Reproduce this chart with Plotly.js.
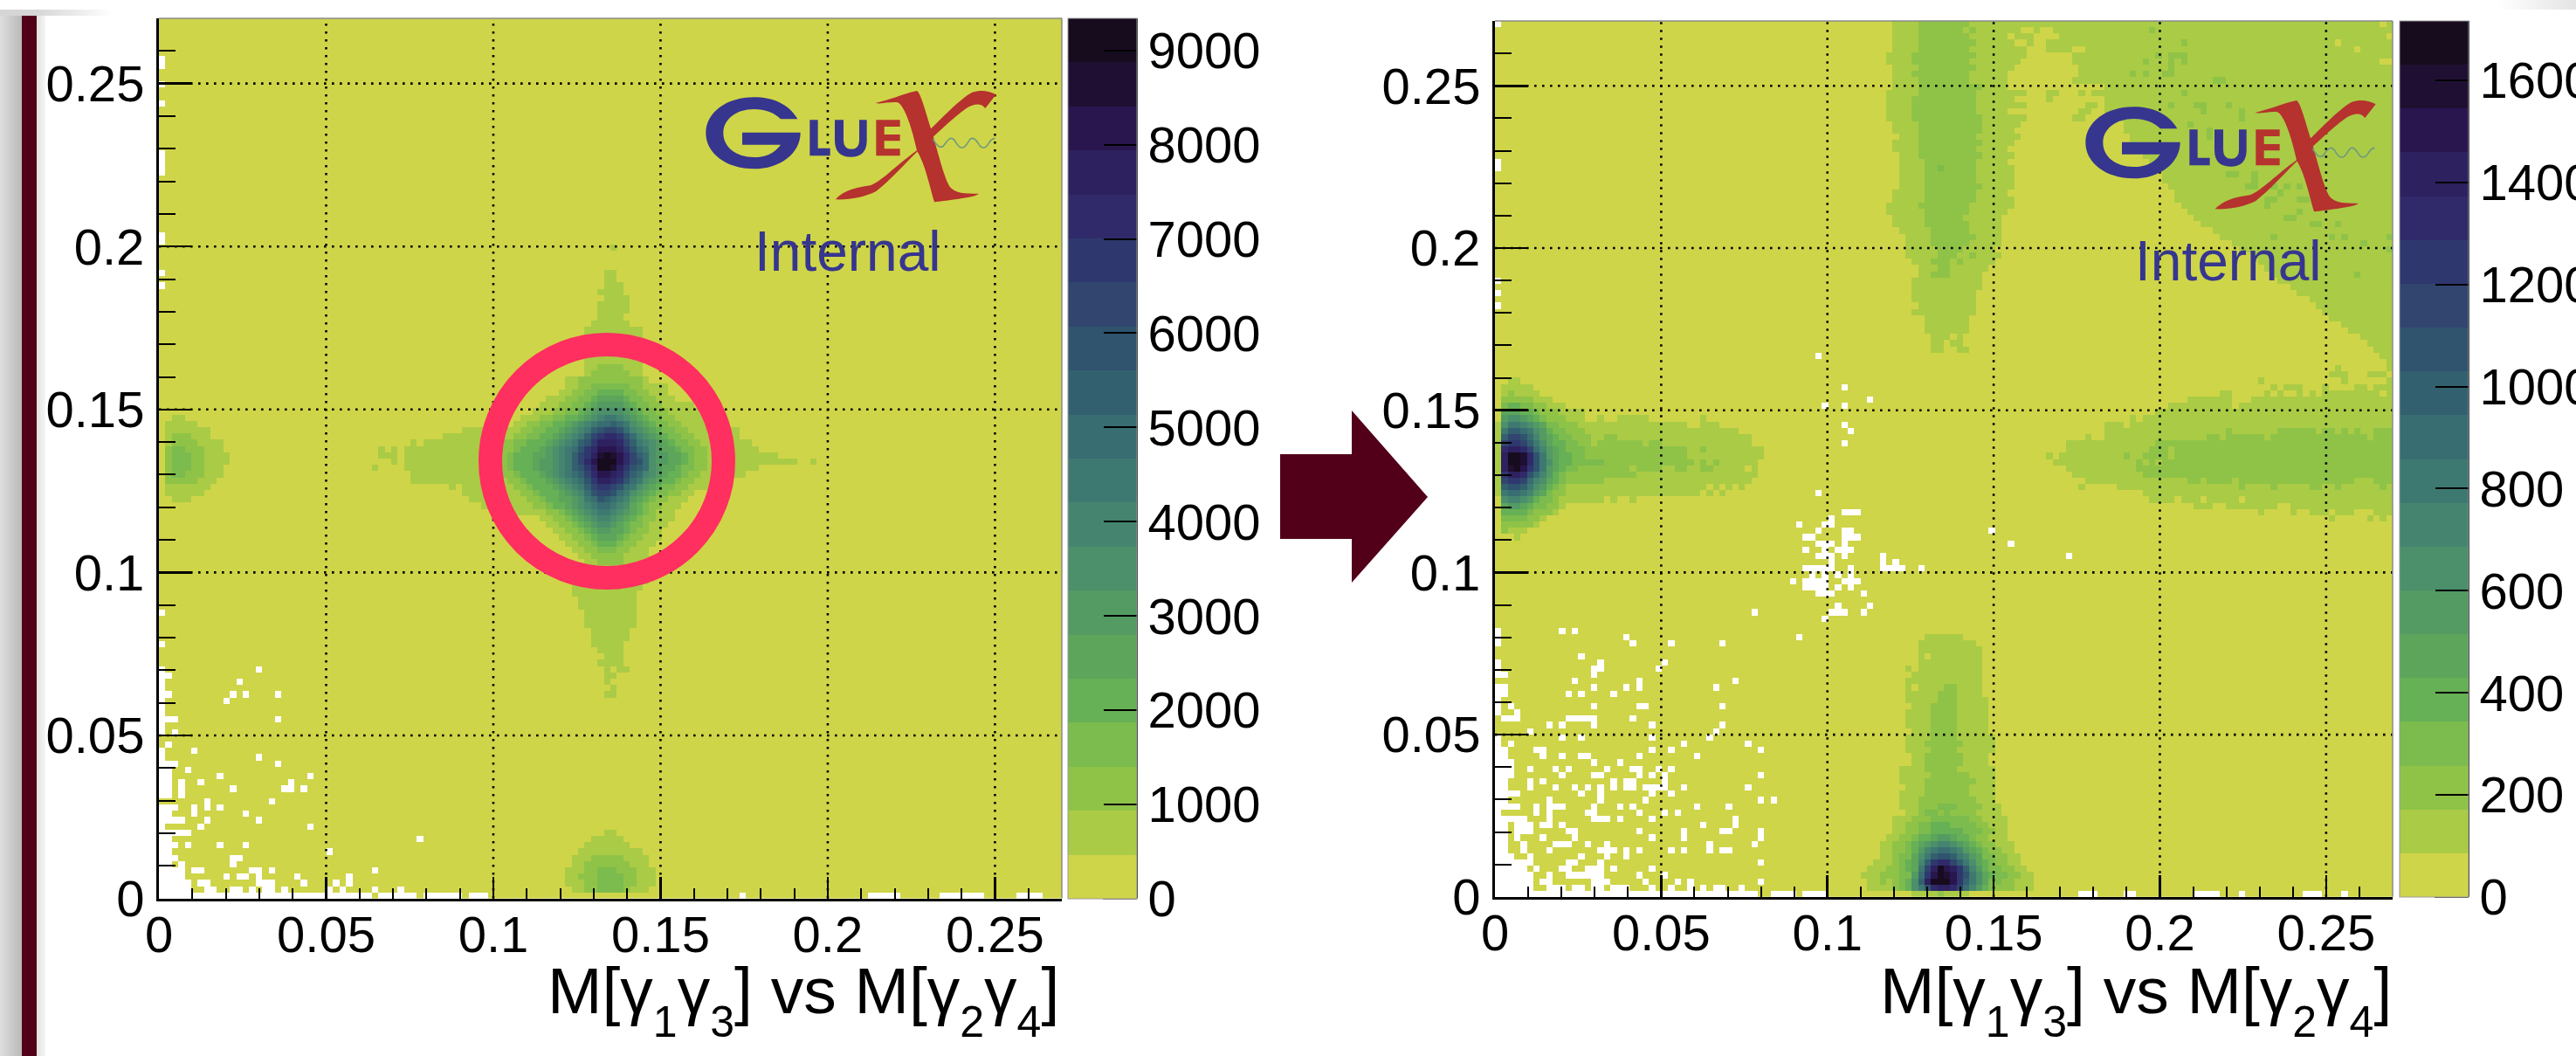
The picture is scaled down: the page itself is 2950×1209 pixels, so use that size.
<!DOCTYPE html>
<html>
<head>
<meta charset="utf-8">
<script src="https://cdn.plot.ly/plotly-3.0.1.min.js"></script>
<style>
html,body{margin:0;padding:0;width:2950px;height:1209px;overflow:hidden;
background:
 linear-gradient(to right,#ffffff 2860px,#e4e4e4 2950px) 0 0/100% 11px no-repeat,
 linear-gradient(to right,#d6d6d6 42px,#ffffff 130px) 0 0/100% 18px no-repeat,
 linear-gradient(to right,#dedede 0,#b9b9b9 25px,#52001a 25px,#52001a 42px,#e2e2e2 42px,#f6f6f6 52px,#ffffff 52px);}
#plot{width:2950px;height:1209px;}
</style>
</head>
<body>
<div id="plot"></div>
<script>
// ---------- chart values ----------
var binCount = 140;
var axisMax = 0.27;
var tickValues = [0, 0.05, 0.1, 0.15, 0.2, 0.25];
var tickLabels = ["0", "0.05", "0.1", "0.15", "0.2", "0.25"];
var minorTickValues = [0.01,0.02,0.03,0.04,0.06,0.07,0.08,0.09,0.11,0.12,0.13,0.14,0.16,0.17,0.18,0.19,0.21,0.22,0.23,0.24,0.26];
var gridValues = [0.05, 0.1, 0.15, 0.2, 0.25];
var bandColours = ["#CFD548","#AACB45","#8FC348","#7CBB4D","#66B055","#5CA55B","#539A63","#4B8F6B","#458570","#3E7971",
                   "#386D72","#33606F","#30536E","#31456F","#2E386E","#302A6A","#2E2160","#29164F","#1F1033","#170B1E"];
var leftZMax = 9340, rightZMax = 1716;
var leftCbarTicks = [0,1000,2000,3000,4000,5000,6000,7000,8000,9000];
var rightCbarTicks = [0,200,400,600,800,1000,1200,1400,1600];
var subDigit = function (d) { return '<sub><sub><span style="font-size:50px">' + d + '</span></sub></sub>'; };
var xTitle = "M[γ" + subDigit(1) + "γ" + subDigit(3) + "] vs M[γ" + subDigit(2) + "γ" + subDigit(4) + "]";

// Left panel: [row, firstCol, lastCol, band]
var leftRuns = [
[103,70,70,1],[99,69,70,1],[98,69,70,1],[97,69,71,1],[96,68,71,1],[95,69,72,1],[94,68,72,1],[93,68,72,1],[92,68,71,1],[91,67,72,1],
[90,66,74,1],[89,66,74,1],[88,66,74,1],[87,66,74,1],[86,66,74,1],
[72,39,39,1],[71,34,34,1],[71,36,36,1],[70,34,36,1],[69,36,36,1],[68,33,33,1],[65,45,45,1],[69,101,101,1],
[52,65,74,1],[51,64,75,1],[50,64,75,1],[49,64,74,1],[48,64,73,1],[47,65,73,1],[46,65,73,1],[45,66,73,1],[44,66,73,1],[43,66,73,1],
[42,67,72,1],[41,67,72,1],[40,67,71,1],[39,68,71,1],[38,69,71,1],[37,68,71,1],[36,69,69,1],[36,71,72,1],[35,69,70,1],[34,69,69,1],[33,70,70,1],[32,69,70,1],
// bottom blob
[10,69,70,1],[9,67,71,1],[8,66,72,1],[7,65,74,1],[6,64,75,1],[5,64,75,1],[4,63,76,1],[3,63,76,1],[2,63,76,1],[1,64,75,1],
[6,67,71,2],[5,66,72,2],[4,66,73,2],[3,65,73,2],[2,66,73,2],[1,66,72,2],[4,68,70,3],[3,68,71,3],[2,68,71,3],[1,68,71,3],
// left blob
[76,2,3,1],[75,1,5,1],[74,1,7,1],[73,1,7,1],[72,1,9,1],[71,1,9,1],[70,1,10,1],[69,1,10,1],[68,1,9,1],[67,1,9,1],[66,1,8,1],[65,1,7,1],[64,1,6,1],[63,2,4,1],
[73,2,4,2],[72,2,5,2],[71,1,6,2],[70,1,6,2],[69,1,6,2],[68,1,6,2],[67,1,6,2],[66,1,5,2],
[71,2,3,3],[70,2,4,3],[69,2,4,3],[68,2,4,3],[67,2,3,3]
];
// Left panel: [row, firstCol, band of each bin from there on]
var leftProfiles = [
[85,66,"111111111"],
[84,66,"112222111"],
[83,66,"122222211"],
[82,63,"11 2222222222 1"],
[81,63,"11 22 333333 22 1111"],
[80,62,"11 22 33 4444 33 22 111"],
[79,60,"111 22 33 4 5555 4 33 22 111"],
[78,59,"111 22 33 4 5 6666 5 4 33 22 11111"],
[77,58,"111 22 33 4 5 6 7777 6 5 4 33 22 11111"],
[76,56,"111 22 33 44 5 6 7 8998 7 6 5 4 33 22 11111"],
[75,55,"11 22 33 44 5 6 7 8 9 aaba 9 7 6 5 4 33 22 11111"],
[74,47,"1111111 11 22 33 44 5 6 7 8 9 bcddca 8 7 6 5 4 33 22 11111 111"],
[73,44,"11111111111 22 33 44 5 6 7 8 9 b d e f f e c a 8 7 6 5 4 33 22 1111111"],
[72,41,"111111111111 22 33 444 5 6 7 8 9 b c e g g g f d b 9 8 7 6 5 4 33 22 11111111"],
[71,38,"11111111111111 222 3 444 5 6 7 8 9 a c e f h h h g e c a 9 7 6 5 5 4 33 22 11111111"],
[70,38,"11111111111111 22 3 444 5 5 6 7 8 9 b d e g i j i h f d b a 7 6 6 5 5 4 3 22 11111111111"],
[69,38,"11111111111111 22 3 444 5 6 6 7 8 9 b d f h j j j h f d c a 7 6 6 5 5 4 3 22 11111111111111"],
[68,38,"11111111111111 22 3 444 5 6 6 7 8 9 b c e g j j i g e c b a 7 6 5 5 4 3 3 22 11111111"],
[67,39,"11111111111111 22 3 444 5 6 7 8 9 a b d f h h g f d b a 8 7 6 5 4 4 3 22 1111111"],
[66,39,"111111111111111 22 3 444 5 6 7 8 9 a c e g g f e c a 9 7 6 5 4 4 3 22 111111"],
[65,47,"11111111 22 3 444 5 6 7 8 9 b d e e d c a 9 7 6 5 4 3 3 22 11111"],
[64,47,"111111111 22 3 444 5 6 7 8 a c d d c a 9 7 6 5 4 3 3 22 11"],
[63,48,"111111111 22 3 44 5 5 6 7 9 a c b a 9 8 6 5 4 3 22 111"],
[62,50,"11111111 22 3 44 5 6 7 8 9 a a 9 8 7 5 4 3 22 111"],
[61,55,"11111 22 3 4 5 6 7 8 9 9 8 7 6 5 4 3 2 111"],
[60,59,"11 22 3 4 5 6 7 8 8 7 6 5 4 3 22 111"],
[59,60,"11 22 3 4 5 6 7 7 6 5 4 33 2 111"],
[58,61,"11 22 3 4 5 6 6 5 5 4 3 22 11"],
[57,62,"11 22 3 4 5 5 5 4 3 22 111"],
[56,63,"11 22 3 4 4 4 3 22 111"],
[55,64,"11 22 3 3 3 22 111"],
[54,65,"11 22222 1111"],
[53,66,"11 2222 111"]
];
// Left panel: bins without entries, [row, [cols]]
var leftEmpty = [
[133,[0]],[132,[0]],[129,[0]],[126,[0]],[118,[0]],[117,[0]],[116,[0]],[115,[0]],[105,[0]],[104,[0]],[99,[0]],[97,[0]],
[45,[0]],[40,[0]],[36,[0,15]],[35,[0,1]],[34,[0,12]],[33,[0]],[32,[0,1,11,13,18]],[31,[0,10]],[30,[0]],[29,[0]],[28,[0,1,2,18]],[27,[0]],[26,[0,2]],
[24,[1]],[23,[0,5]],[22,[0,15]],[21,[0,1,2,18]],[20,[0,1,4]],[19,[0,1,9,23]],[18,[0,1,3,6,20]],[17,[0,1,3,11,19,20,22]],[16,[0,1,3]],
[15,[7,17]],[14,[0,1,2,5,7,9]],[13,[0,1,5,13]],[12,[0,1,2,3,7,15]],[11,[0,6,23]],[10,[0,1,2,3,4]],[9,[0,1,40]],[8,[0,1,2,4,9,13]],[7,[0,1,26]],[6,[0,1,2,11,12]],[5,[0,1,3,11]],
[4,[0,1,2,3,5,6,14,15,17,33]],[3,[0,1,2,3,10,12,13,15,21,29]],[2,[0,1,2,3,4,6,7,15,16,17,22,27,29]],[1,[0,1,2,3,4,7,8,11,12,14,16,17,19,26,28,33,37]],
[0,[0,1,2,3,4,5,6,7,8,9,10,11,12,13,14,15,16,17,18,19,20,21,22,23,24,25,26,27,28,29,30,31,32,34,35,36,37,38,39,41,42,43,44,45,46,48,49,50,90,110,111,112,113,114,121,122,123,124,125,126,127,133,134,135,136]]
];

// Right panel: [row, firstCol, lastCol, band]
var rightRuns = [
// upper vertical band and diffuse top-right region, band 1
[139,62,139,1],[138,62,139,1],[137,62,139,1],[136,62,139,1],[135,62,139,1],[134,61,139,1],[133,61,139,1],[132,62,139,1],[131,62,139,1],[130,62,139,1],
[129,62,79,1],[128,61,82,1],[127,61,80,1],[126,61,82,1],[125,61,79,1],[124,61,82,1],[123,62,81,1],[122,62,80,1],[121,63,81,1],[120,62,80,1],
[119,62,79,1],[118,63,80,1],[117,63,79,1],[116,63,80,1],[115,63,80,1],[114,63,80,1],[113,63,80,1],[112,62,79,1],[111,62,80,1],[110,61,80,1],
[109,61,79,1],[108,62,78,1],[107,62,78,1],[106,63,78,1],[105,64,78,1],[104,64,78,1],[103,64,77,1],[102,64,78,1],[101,65,77,1],[100,66,76,1],
[99,66,75,1],[98,65,75,1],[97,65,75,1],[96,65,74,1],[95,65,74,1],[94,66,74,1],[93,65,74,1],[92,67,73,1],[91,67,73,1],[90,67,73,1],
[89,68,70,1],[89,72,72,1],[88,68,69,1],[88,71,72,1],[87,68,69,1],[87,72,73,1],
[129,95,139,1],[128,95,139,1],[128,86,87,1],[128,91,91,1],[128,93,94,1],[127,95,139,1],[127,86,86,1],[126,95,139,1],[126,92,93,1],[125,95,139,1],[125,91,92,1],[124,95,139,1],[124,90,91,1],
[123,98,139,1],[122,98,139,1],[121,99,139,1],[120,99,139,1],[119,100,139,1],[118,101,139,1],[117,102,139,1],[116,103,139,1],[115,104,139,1],[114,104,139,1],
[113,105,139,1],[112,106,139,1],[111,106,139,1],[110,107,139,1],[109,108,139,1],[108,109,139,1],[107,110,139,1],[106,112,139,1],[105,113,139,1],[104,115,139,1],
[103,116,139,1],[102,118,139,1],[101,119,139,1],[100,120,139,1],[99,121,139,1],[98,122,139,1],[97,124,139,1],[96,125,139,1],[95,127,139,1],[94,128,139,1],
[93,129,139,1],[92,130,139,1],[91,132,139,1],[90,133,139,1],[89,135,139,1],[88,136,139,1],[87,137,139,1],[86,138,139,1],[85,139,139,1],
// yellow holes in the top-right region
[138,82,83,0],[138,85,86,0],[137,80,80,0],[137,84,87,0],[136,81,82,0],[136,84,85,0],[135,83,85,0],[135,90,91,0],[134,83,89,0],[133,82,89,0],[132,81,90,0],[131,80,90,0],[130,80,89,0],
[139,138,138,0],[137,139,139,0],[136,131,131,0],[135,134,134,0],[133,138,139,0],
// band 2, vertical band
[139,66,73,2],[138,66,72,2],[138,74,74,2],[137,66,73,2],[136,66,74,2],[135,66,73,2],[134,65,74,2],[133,65,73,2],[132,66,74,2],[131,65,73,2],[130,66,73,2],
[129,66,75,2],[128,66,74,2],[127,65,74,2],[126,65,74,2],[125,65,74,2],[124,65,75,2],[123,66,75,2],[122,66,75,2],[121,66,74,2],[120,66,75,2],
[119,66,74,2],[118,66,75,2],[117,67,74,2],[116,67,74,2],[115,67,74,2],[114,67,74,2],[113,67,75,2],[112,67,74,2],[111,67,74,2],[110,66,73,2],
[109,67,73,2],[108,67,72,2],[107,67,73,2],[106,68,73,2],[105,68,74,2],[104,68,73,2],[103,69,72,2],[102,69,71,2],[102,74,74,2],[101,68,70,2],[101,72,72,2],[100,69,70,2],[99,68,70,2],
[116,69,69,3],
// speckles, top-right region
[138,102,102,2],[136,107,107,2],[134,103,103,2],[134,105,107,2],[133,101,101,2],[133,105,105,2],[133,107,107,2],[132,105,105,2],[131,99,99,2],[131,101,101,2],[131,104,105,2],
[130,112,113,2],[128,107,107,2],[126,105,105,2],[126,109,110,2],[126,114,114,2],[125,110,110,2],[125,116,116,2],[124,116,116,2],[123,108,108,2],[122,111,111,2],[121,111,111,2],
[115,114,115,2],[115,118,118,2],[114,118,118,2],[113,117,118,2],[113,121,121,2],[113,123,123,2],[113,125,125,2],[112,122,122,2],[111,120,121,2],[111,125,126,2],[110,120,120,2],[109,125,125,2],[108,123,124,2],
[107,127,128,2],[107,131,131,2],[105,121,121,2],[105,130,130,2],[105,132,132,2],[105,139,139,2],[104,135,135,2],[103,139,139,2],[99,134,134,2],
// right horizontal band, band 1
[84,131,131,1],[84,139,139,1],[83,130,132,1],[83,136,138,1],[82,119,119,1],[82,132,132,1],[82,139,139,1],
[81,121,121,1],[81,123,125,1],[81,129,129,1],[81,134,135,1],[81,137,139,1],
[80,113,114,1],[80,120,120,1],[80,122,122,1],[80,125,125,1],[80,127,127,1],[80,129,133,1],[80,134,137,1],[80,139,139,1],
[79,108,113,1],[79,114,114,1],[79,118,139,1],[78,105,114,1],[78,116,139,1],[77,103,139,1],[76,99,99,1],[76,101,139,1],[75,95,97,1],[75,99,139,1],[74,95,139,1],
[73,92,92,1],[73,95,139,1],[72,89,139,1],[71,89,139,1],[70,86,86,1],[70,88,139,1],[69,87,139,1],[68,89,139,1],[67,90,91,1],[67,92,139,1],[66,92,139,1],
[65,91,91,1],[65,97,139,1],[64,101,139,1],[63,102,105,1],[63,107,109,1],[63,111,115,1],[63,117,139,1],[62,109,111,1],[62,114,121,1],[62,124,139,1],
[61,119,119,1],[61,124,124,1],[61,127,129,1],[61,131,133,1],[61,137,139,1],[60,130,130,1],[60,136,136,1],[60,138,138,1],
// right horizontal band, band 2
[74,114,114,2],[74,122,127,2],[74,129,130,2],[74,132,132,2],[74,134,134,2],[74,137,139,2],
[73,111,112,2],[73,114,119,2],[73,121,133,2],[73,134,135,2],[73,137,139,2],
[72,103,105,2],[72,106,139,2],[71,102,104,2],[71,106,139,2],[70,98,98,2],[70,101,104,2],[70,106,139,2],[69,100,100,2],[69,102,102,2],[69,104,139,2],
[68,100,139,2],[67,101,105,2],[67,106,139,2],[66,108,109,2],[66,111,114,2],[66,116,133,2],[66,137,139,2],
[65,116,116,2],[65,121,121,2],[65,127,128,2],[65,131,131,2],[65,138,138,2],
// bottom vertical arm, band 1
[41,67,71,1],[41,72,72,1],[40,66,74,1],[39,66,75,1],[38,66,66,1],[38,68,75,1],[37,66,75,1],[36,64,64,1],[36,66,75,1],[35,65,75,1],[34,64,75,1],[33,64,64,1],[33,66,75,1],[32,64,75,1],
[31,64,76,1],[30,65,76,1],[29,64,76,1],[28,64,76,1],[27,64,76,1],[26,65,76,1],[25,64,77,1],[24,64,77,1],[23,64,77,1],[22,65,76,1],[21,65,76,1],[20,63,77,1],[19,63,77,1],[18,63,77,1],
[17,64,77,1],[16,63,77,1],[15,63,77,1],[14,63,78,1],[13,64,78,1],[12,62,79,1],[11,62,79,1],[10,62,79,1],
// bottom vertical arm, band 2
[33,70,71,2],[32,69,71,2],[31,69,71,2],[30,68,71,2],[29,68,71,2],[28,68,71,2],[27,68,71,2],[26,68,71,2],[25,68,71,2],[24,67,72,2],[23,68,71,2],[22,67,72,2],[21,67,72,2],[20,67,71,2],
[19,68,73,2],[18,67,74,2],[17,67,73,2],[16,67,73,2],[15,66,74,2],[14,66,75,2],[13,66,74,2],[14,69,71,3],[13,67,68,3],[13,70,70,3],
[12,65,75,2],[12,68,73,3],[11,64,76,2],[11,66,74,3],[11,68,70,4],
[0,65,73,1],[0,69,69,2]
];
// Right panel: [row, firstCol, band of each bin from there on]
var rightProfiles = [
[82,2,"11"],
[81,1,"11111"],
[80,1,"121111"],
[79,1,"22222111"],
[78,1,"3443322111"],
[77,1,"5554432221111"],
[76,1,"6776543222111"],[76,16,"1"],[76,19,"11111"],[76,32,"1"],
[75,0,"1 799876533222 11111111111111111"],[75,32,"111"],
[74,0,"1 9bba976433222 111111111111111111111111"],
[73,0,"1 bddca865433222 11 22 111111111111111111111"],
[72,0,"1 deedb9754433221 2222222 1 22 11111111111111"],
[71,0,"1 fggfda8654333 2222222222222222 11 2 111111111"],
[70,0,"1 gjjifc9654433 2222222222222222 111111111111"],
[69,0,"1 gjjifc975443333 3 22222222222222 1 2 1 2 111111"],
[68,0,"1 gijhec965433 22222222 1 2222 11 22 11 22 11111 0 1"],
[67,0,"1 eggfca8643 22222222222 1111111111111111111"],
[66,0,"1 deeda87543 222222 11111111111111111111111"],
[65,0,"1 bccb976432 1111111111111111111111 0 1 0 1 0 1"],
[64,0,"1 9aa98653 22 111111111111111111111 0 1 0 1"],
[63,1,"7887643 3 2 1111111 0 1 00 1"],
[62,1,"566543 3 2 2 1"],
[61,1,"4444322 21"],
[60,1,"3333221"],
[59,1,"222221"],
[58,1,"2111"],
[57,3,"1"],
// bottom peak
[10,62,"11 22 33 44444 333 22 11"],
[9,61,"11 22 3 44 5 6 6 5 44 3 22 111"],
[8,60,"11 22 3 4 5 6 7 8 8 7 6 5 4 3 22 111"],
[7,60,"11 22 3 4 6 8 9 a a 9 8 6 5 4 3 22 11"],
[6,60,"11 2 33 5 7 9 b c c b 9 8 6 5 33 22 11"],
[5,59,"111 2 3 4 5 8 b e f f d b 9 7 5 4 3 22 11"],
[4,58,"111 22 3 4 5 9 d g j h g e b 8 6 4 33 22 11"],
[3,57,"111 222 33 6 a e h j i h e c 9 7 5 4 33 22 11"],
[2,58,"11 2 1 2 3 4 7 b g j j j h e b 9 7 5 33 22 111"],
[1,58,"1111 2 3 4 7 9 c f g g f d a 8 6 4 3 222 111"]
];
// Right panel: bins without entries, [row, [cols]]
var rightEmpty = [
[139,[0]],[117,[0]],[116,[0]],[98,[0]],[96,[0]],[94,[0]],
[86,[50]],[81,[54]],[79,[58]],[78,[51,54]],[75,[54]],[74,[55]],[72,[54]],[64,[50]],[61,[54,55,56]],[60,[52]],[59,[47,51,52]],[58,[50,54,55,77]],[57,[48,49,54,55,56]],
[56,[50,51,52,54,80]],[55,[48,51,53,54,55]],[54,[50,51,52,54,60,89]],[53,[52,60,62]],[52,[48,49,50,51,52,55,60,61,62,63,66]],[51,[49,51,53,55]],[50,[46,48,49,50,51,54,55,56]],
[49,[48,49,50,51,53,55]],[48,[50,51,52,57]],[46,[53,58]],[45,[40,52,53,54,57]],[44,[51]],
[42,[0,10,12]],[41,[0,20,47]],[40,[0,21,27,35]],[38,[13]],[37,[0,16,26]],[36,[0,15,16,25]],[35,[0,1,15]],[34,[12,22,37]],[33,[0,1,15,20,22,34]],[32,[0,1,11,13,18]],
[31,[0]],[30,[0,2,15,22,23,35]],[29,[0,3]],[28,[1,2,3,11,12,13,14,15,21]],[27,[8,10,15,24,35]],[26,[5,34]],[25,[0,10,13,24,33]],[24,[0,2,29,39]],[23,[0,1,6,7,24,27,41]],
[22,[0,1,7,10,13,14,22,31]],[21,[0,1,2,15,19]],[20,[0,1,2,5,9,11,17,21,22,25,27]],[19,[0,1,2,10,15,16,22,24,26,41]],[18,[0,1,5,7,18,20,21,26]],[17,[0,1,5,9,12,14,16,18,20,21,23,24,25,26,29,39]],
[16,[0,1,2,3,13,16,24,27]],[15,[0,1,8,16,23,41,43]],[14,[0,1,2,3,6,8,9,10,15,19,21,31,36]],[13,[0,6,8,14,15,22,26,28]],[12,[0,1,2,3,4,8,15,16,17,19,24,37]],[11,[0,1,3,4,5,7,8,10,32,37]],
[10,[0,1,3,4,5,11,12,22,29,35,36,41]],[9,[0,1,3,7,12,24,29,41]],[8,[0,1,4,9,10,11,14,17,33,40]],[7,[0,1,4,8,16,17,18,20,22,27,29,33,35,36]],[6,[0,1,2,5,13,17,20]],
[5,[0,1,2,3,4,5,11,12,16,41]],[4,[0,1,2,3,4,6,10,11,14,15,16,18,24]],[3,[0,1,2,3,4,5,8,11,12,13,14,15,16,22,26]],[2,[0,1,2,3,4,5,7,8,15,16,17,23,28,30,41]],[1,[0,1,2,3,4,5,8,9,10,12,13,15,16,18,19,20,24,27,30,32,34,35,38]],
[0,[0,1,2,3,4,5,6,7,8,9,10,11,12,13,14,15,16,17,18,19,20,21,22,23,24,25,26,27,28,29,30,31,32,33,34,35,36,37,38,39,40,43,44,45,46,48,49,50,51,91,92,93,98,99,109,110,111,112,116,126,127,128,132]]
];
// ---------------------------------------------------------

function buildZ(runs, profiles, empty, zMax) {
  var step = zMax / bandColours.length, grid = [], r, c;
  for (r = 0; r < binCount; r++) { grid.push([]); for (c = 0; c < binCount; c++) grid[r].push(0); }
  runs.forEach(function (u) { for (var k = u[1]; k <= u[2]; k++) grid[u[0]][k] = u[3]; });
  profiles.forEach(function (p) {
    var s = p[2].replace(/ /g, '');
    for (var i = 0; i < s.length && p[1] + i < binCount; i++) grid[p[0]][p[1] + i] = parseInt(s[i], 36);
  });
  var z = grid.map(function (row) { return row.map(function (b) { return (b + 0.5) * step; }); });
  empty.forEach(function (e) { e[1].forEach(function (k) { z[e[0]][k] = null; }); });
  return z;
}
var binCentres = [];
for (var i = 0; i < binCount; i++) binCentres.push((i + 0.5) * axisMax / binCount);

var colourscale = [];
bandColours.forEach(function (col, i) {
  colourscale.push([i / bandColours.length, col]);
  colourscale.push([(i + 1) / bandColours.length, col]);
});

var W = 2950, H = 1209;
function fx(p) { return p / W; }
function fy(p) { return 1 - p / H; }

var L = {x0: 182, x1: 1216, y0: 1028.6, y1: 21, cb0: 1223, cb1: 1302};
var R = {x0: 1712, x1: 2740, y0: 1026.8, y1: 24, cb0: 2748, cb1: 2827};

function heat(z, zMax, xa, ya, P, ticks) {
  return {
    type: 'heatmap', z: z, x: binCentres, y: binCentres, xaxis: xa, yaxis: ya,
    zmin: 0, zmax: zMax, colorscale: colourscale, zsmooth: false, hoverongaps: false,
    colorbar: {
      x: fx(P.cb0), xanchor: 'left', xpad: 0, ypad: 0,
      y: fy(P.y1), yanchor: 'top', lenmode: 'fraction', len: (P.y0 - P.y1) / H,
      thicknessmode: 'pixels', thickness: P.cb1 - P.cb0,
      tickmode: 'array', tickvals: ticks, ticktext: ticks.map(String),
      ticks: 'inside', ticklen: 38, tickwidth: 2, tickcolor: '#000',
      tickfont: {family: 'Liberation Sans', size: 58, color: '#000'},
      outlinecolor: '#9a9a9a', outlinewidth: 1
    }
  };
}

function axis(dom, anchor) {
  return {
    domain: dom, anchor: anchor, range: [0, axisMax], showgrid: false, zeroline: false,
    showline: true, linecolor: '#000', linewidth: 3, mirror: false,
    tickmode: 'array', tickvals: tickValues, ticktext: tickLabels,
    ticks: 'inside', tickcolor: '#000', tickwidth: 2.5,
    tickfont: {family: 'Liberation Sans', size: 58, color: '#000'}, layer: 'above traces'
  };
}
function xAxis(P, anchor) {
  var a = axis([fx(P.x0), fx(P.x1)], anchor);
  a.ticklen = 25; a.ticklabelstandoff = -11;
  a.minor = {tickmode: 'array', tickvals: minorTickValues, ticks: 'inside', ticklen: 12, tickwidth: 2, tickcolor: '#000', showgrid: false};
  return a;
}
function yAxis(P, anchor) {
  var a = axis([fy(P.y0), fy(P.y1)], anchor);
  a.ticklen = 38; a.ticklabelstandoff = 2;
  a.minor = {tickmode: 'array', tickvals: minorTickValues, ticks: 'inside', ticklen: 19, tickwidth: 2, tickcolor: '#000', showgrid: false};
  return a;
}

var shapes = [];
function gridLines(xr, yr) {
  gridValues.forEach(function (v) {
    var line = {color: '#000', width: 2.6, dash: '2.6px,6.4px'};
    shapes.push({type: 'line', xref: xr, yref: yr, x0: v, x1: v, y0: 0, y1: axisMax, layer: 'above', line: line});
    shapes.push({type: 'line', xref: xr, yref: yr, x0: 0, x1: axisMax, y0: v, y1: v, layer: 'above', line: line});
  });
}
gridLines('x', 'y'); gridLines('x2', 'y2');

function paperLine(x0, y0, x1, y1, col, w) {
  shapes.push({type: 'line', xref: 'paper', yref: 'paper', x0: fx(x0), y0: fy(y0), x1: fx(x1), y1: fy(y1), layer: 'above', line: {color: col, width: w}});
}
[L, R].forEach(function (P) {
  paperLine(P.x0, P.y1, P.x1, P.y1, '#8a8a8a', 1.5);
  paperLine(P.x1, P.y1, P.x1, P.y0, '#8a8a8a', 1.5);
  paperLine(P.cb1, P.y1, P.cb1, P.y0, '#000', 2);
  paperLine(P.cb0 + 40, P.y0, P.cb1, P.y0, '#000', 2);
});

// red ring round the left peak
shapes.push({type: 'circle', xref: 'paper', yref: 'paper', layer: 'above',
  x0: fx(695 - 133.5), x1: fx(695 + 133.5), y0: fy(528 + 133.5), y1: fy(528 - 133.5),
  line: {color: '#FF2F5F', width: 27}, fillcolor: 'rgba(0,0,0,0)'});

// arrow between the panels
shapes.push({type: 'path', xref: 'paper', yref: 'paper', layer: 'above', fillcolor: '#52001a', line: {width: 0},
  path: 'M' + [[1466,520],[1548,520],[1548,470],[1635,569],[1548,667],[1548,617],[1466,617]].map(function (p) { return fx(p[0]) + ',' + fy(p[1]); }).join(' L') + ' Z'});

// GlueX logo, drawn in a local 3x frame and placed twice
var logoParts = [
 {fill: '#36368F', d: 'M430,262 C400,210 345,187 280,187 C185,187 115,240 115,310 C115,380 185,433 280,433 C370,433 440,380 440,308 L240,308 L240,350 L372,350 C350,380 320,393 280,393 C220,393 175,360 175,310 C175,262 220,228 280,228 C320,228 350,240 372,262 Z'},
 {fill: '#36368F', d: 'M472,265 L500,265 L500,362 L542,362 L542,388 L472,388 Z'},
 {fill: '#36368F', d: 'M558,265 L588,265 L588,335 Q588,365 615,365 Q642,365 642,335 L642,265 L668,265 L668,335 Q668,392 613,392 Q558,392 558,335 Z'},
 {fill: '#B5322E', d: 'M700,265 L782,265 L782,288 L728,288 L728,315 L782,315 L782,337 L728,337 L728,364 L782,364 L782,388 L700,388 Z'},
 {fill: '#B5322E', d: 'M697,207 C750,195 810,170 840,165 C855,175 870,240 890,300 C915,385 930,450 950,490 C965,515 1000,520 1052,518 C1040,530 990,535 900,547 C885,500 870,420 840,370 C825,300 800,220 775,205 C750,200 720,212 697,207 Z'},
 {fill: '#B5322E', d: 'M560,538 C590,505 640,495 680,490 C720,475 770,420 840,370 L885,298 C920,265 990,190 1030,170 C1060,160 1090,165 1112,178 L1075,225 C1060,205 1035,210 1010,225 C960,260 900,320 830,385 C790,425 750,470 700,510 C660,530 610,540 560,538 Z'},
 {stroke: '#6f9a82', d: 'M895,330 C905,350 920,365 930,355 C940,345 945,330 958,328 C975,328 975,360 995,360 C1015,360 1015,328 1030,328 C1050,328 1050,360 1068,360 C1088,360 1085,330 1108,328'}
];
function placeLogo(ox, oy) {
  logoParts.forEach(function (part) {
    var path = part.d.replace(/(-?\d+(?:\.\d+)?),(-?\d+(?:\.\d+)?)/g, function (m, a, b) {
      return fx(ox + a / 3) + ',' + fy(oy + b / 3);
    });
    shapes.push({type: 'path', xref: 'paper', yref: 'paper', layer: 'above', path: path,
      fillcolor: part.fill || 'rgba(0,0,0,0)',
      line: part.stroke ? {color: part.stroke, width: 1.6} : {width: 0}});
  });
}
placeLogo(2350, 60);
placeLogo(770, 49);

function internal(cx, cy) {
  return {xref: 'paper', yref: 'paper', x: fx(cx), y: fy(cy), xanchor: 'center', yanchor: 'middle', showarrow: false,
    text: 'Internal', font: {family: 'Liberation Sans', size: 64, color: '#36368F'}};
}
function titleNote(right, baselineY) {
  return {xref: 'paper', yref: 'paper', x: fx(right), y: fy(baselineY), xanchor: 'right', yanchor: 'middle', showarrow: false,
    text: xTitle, font: {family: 'Liberation Sans', size: 75, color: '#000'}};
}

var traces = [
  heat(buildZ(leftRuns, leftProfiles, leftEmpty, leftZMax), leftZMax, 'x', 'y', L, leftCbarTicks),
  heat(buildZ(rightRuns, rightProfiles, rightEmpty, rightZMax), rightZMax, 'x2', 'y2', R, rightCbarTicks)
];

var layout = {
  width: W, height: H, autosize: false,
  margin: {l: 0, r: 0, t: 0, b: 0, pad: 0, autoexpand: false},
  paper_bgcolor: 'rgba(0,0,0,0)', plot_bgcolor: '#ffffff', showlegend: false,
  xaxis: xAxis(L, 'y'), yaxis: yAxis(L, 'x'),
  xaxis2: xAxis(R, 'y2'), yaxis2: yAxis(R, 'x2'),
  shapes: shapes,
  annotations: [internal(971, 288), internal(2551, 299), titleNote(1215, 1145), titleNote(2741, 1145)]
};

Plotly.newPlot('plot', traces, layout, {staticPlot: true, displayModeBar: false});
</script>
</body>
</html>
